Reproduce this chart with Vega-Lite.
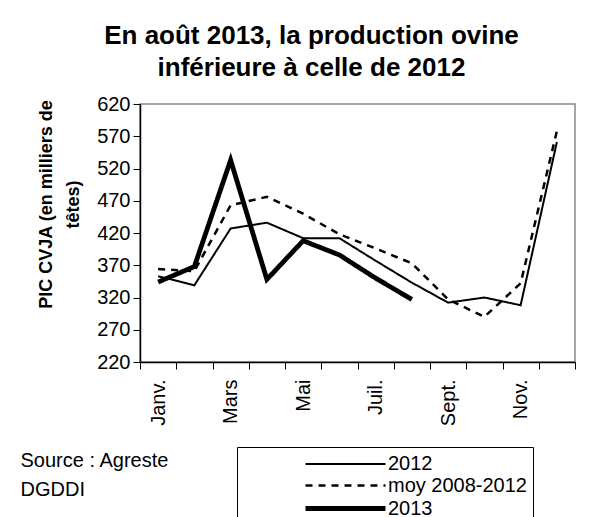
{
  "$schema": "https://vega.github.io/schema/vega-lite/v6.json",
  "width": 435,
  "height": 258,
  "autosize": {"type": "none"},
  "padding": {"left": 140, "top": 104, "right": 22, "bottom": 155},
  "background": "white",
  "title": {
    "text": ["En août 2013, la production ovine", "inférieure à celle de 2012"],
    "fontSize": 26,
    "fontWeight": "bold",
    "font": "Liberation Sans",
    "lineHeight": 32,
    "anchor": "middle",
    "frame": "group",
    "dx": -46,
    "offset": 13,
    "color": "black"
  },
  "data": {
    "values": [
      {"mois": "Janv.", "serie": "2012", "valeur": 353},
      {"mois": "Févr.", "serie": "2012", "valeur": 339},
      {"mois": "Mars", "serie": "2012", "valeur": 427},
      {"mois": "Avr.", "serie": "2012", "valeur": 436},
      {"mois": "Mai", "serie": "2012", "valeur": 412},
      {"mois": "Juin", "serie": "2012", "valeur": 412},
      {"mois": "Juil.", "serie": "2012", "valeur": 377},
      {"mois": "Août", "serie": "2012", "valeur": 343},
      {"mois": "Sept.", "serie": "2012", "valeur": 312},
      {"mois": "Oct.", "serie": "2012", "valeur": 320},
      {"mois": "Nov.", "serie": "2012", "valeur": 308},
      {"mois": "Déc.", "serie": "2012", "valeur": 561},
      {"mois": "Janv.", "serie": "moy 2008-2012", "valeur": 364},
      {"mois": "Févr.", "serie": "moy 2008-2012", "valeur": 361},
      {"mois": "Mars", "serie": "moy 2008-2012", "valeur": 463},
      {"mois": "Avr.", "serie": "moy 2008-2012", "valeur": 476},
      {"mois": "Mai", "serie": "moy 2008-2012", "valeur": 450},
      {"mois": "Juin", "serie": "moy 2008-2012", "valeur": 418},
      {"mois": "Juil.", "serie": "moy 2008-2012", "valeur": 396},
      {"mois": "Août", "serie": "moy 2008-2012", "valeur": 373},
      {"mois": "Sept.", "serie": "moy 2008-2012", "valeur": 317},
      {"mois": "Oct.", "serie": "moy 2008-2012", "valeur": 290},
      {"mois": "Nov.", "serie": "moy 2008-2012", "valeur": 342},
      {"mois": "Déc.", "serie": "moy 2008-2012", "valeur": 578},
      {"mois": "Janv.", "serie": "2013", "valeur": 344},
      {"mois": "Févr.", "serie": "2013", "valeur": 368},
      {"mois": "Mars", "serie": "2013", "valeur": 533},
      {"mois": "Avr.", "serie": "2013", "valeur": 348},
      {"mois": "Mai", "serie": "2013", "valeur": 408},
      {"mois": "Juin", "serie": "2013", "valeur": 386},
      {"mois": "Juil.", "serie": "2013", "valeur": 350},
      {"mois": "Août", "serie": "2013", "valeur": 317}
    ]
  },
  "mark": {"type": "line", "color": "black", "strokeJoin": "miter", "strokeCap": "butt"},
  "encoding": {
    "x": {
      "field": "mois",
      "type": "ordinal",
      "sort": ["Janv.", "Févr.", "Mars", "Avr.", "Mai", "Juin", "Juil.", "Août", "Sept.", "Oct.", "Nov.", "Déc."],
      "scale": {"type": "band", "paddingInner": 0, "paddingOuter": 0},
      "bandPosition": 0.5,
      "axis": {
        "tickBand": "extent",
        "labelAngle": -90,
        "labelAlign": "right",
        "labelBaseline": "middle",
        "labelFontSize": 20,
        "labelFont": "Liberation Sans",
        "labelColor": "black",
        "labelPadding": 10,
        "labelExpr": "indexof(['Janv.','Mars','Mai','Juil.','Sept.','Nov.'], datum.value) >= 0 ? datum.value : ''",
        "tickSize": 7,
        "tickColor": "black",
        "domainColor": "black",
        "domainWidth": 1.5,
        "grid": false,
        "title": ["Source : Agreste", "DGDDI"],
        "titleFont": "Liberation Sans",
        "titleFontSize": 20,
        "titleFontWeight": "normal",
        "titleColor": "black",
        "titleAngle": 0,
        "titleAlign": "left",
        "titleAnchor": "start",
        "titleBaseline": "top",
        "titleLineHeight": 29,
        "titleX": -120,
        "titleY": 88
      }
    },
    "y": {
      "field": "valeur",
      "type": "quantitative",
      "scale": {"domain": [220, 620], "nice": false, "zero": false},
      "axis": {
        "values": [220, 270, 320, 370, 420, 470, 520, 570, 620],
        "labelFontSize": 20,
        "labelFont": "Liberation Sans",
        "labelColor": "black",
        "labelPadding": 3,
        "tickSize": 7,
        "tickColor": "black",
        "domainColor": "black",
        "domainWidth": 1.5,
        "grid": false,
        "title": ["PIC CVJA (en milliers de", "têtes)"],
        "titleFont": "Liberation Sans",
        "titleFontSize": 18,
        "titleFontWeight": "bold",
        "titleColor": "black",
        "titleLineHeight": 27,
        "titlePadding": 14,
        "titleY": 100
      }
    },
    "strokeDash": {
      "field": "serie",
      "type": "nominal",
      "scale": {"domain": ["2012", "moy 2008-2012", "2013"], "range": [[1, 0], [7, 6], [1, 0]]},
      "legend": {
        "orient": "none",
        "legendX": 97,
        "legendY": 343,
        "title": null,
        "strokeColor": "black",
        "fillColor": "white",
        "padding": 6,
        "symbolType": "M-4,0H4",
        "symbolSize": 400,
        "symbolOffset": 90,
        "symbolStrokeColor": "black",
        "symbolFillColor": "transparent",
        "labelFontSize": 20,
        "labelFont": "Liberation Sans",
        "labelColor": "black",
        "labelOffset": 30,
        "rowPadding": -2
      }
    },
    "strokeWidth": {
      "field": "serie",
      "type": "nominal",
      "scale": {"type": "ordinal", "domain": ["2012", "moy 2008-2012", "2013"], "range": [2, 2.5, 4.8]},
      "legend": {
        "orient": "none",
        "legendX": 97,
        "legendY": 343,
        "title": null,
        "strokeColor": "black",
        "fillColor": "white",
        "padding": 6,
        "symbolType": "M-4,0H4",
        "symbolSize": 400,
        "symbolOffset": 90,
        "symbolStrokeColor": "black",
        "symbolFillColor": "transparent",
        "labelFontSize": 20,
        "labelFont": "Liberation Sans",
        "labelColor": "black",
        "labelOffset": 30,
        "rowPadding": -2
      }
    }
  },
  "config": {
    "view": {"stroke": "#888888", "strokeWidth": 1.5},
    "font": "Liberation Sans"
  }
}
